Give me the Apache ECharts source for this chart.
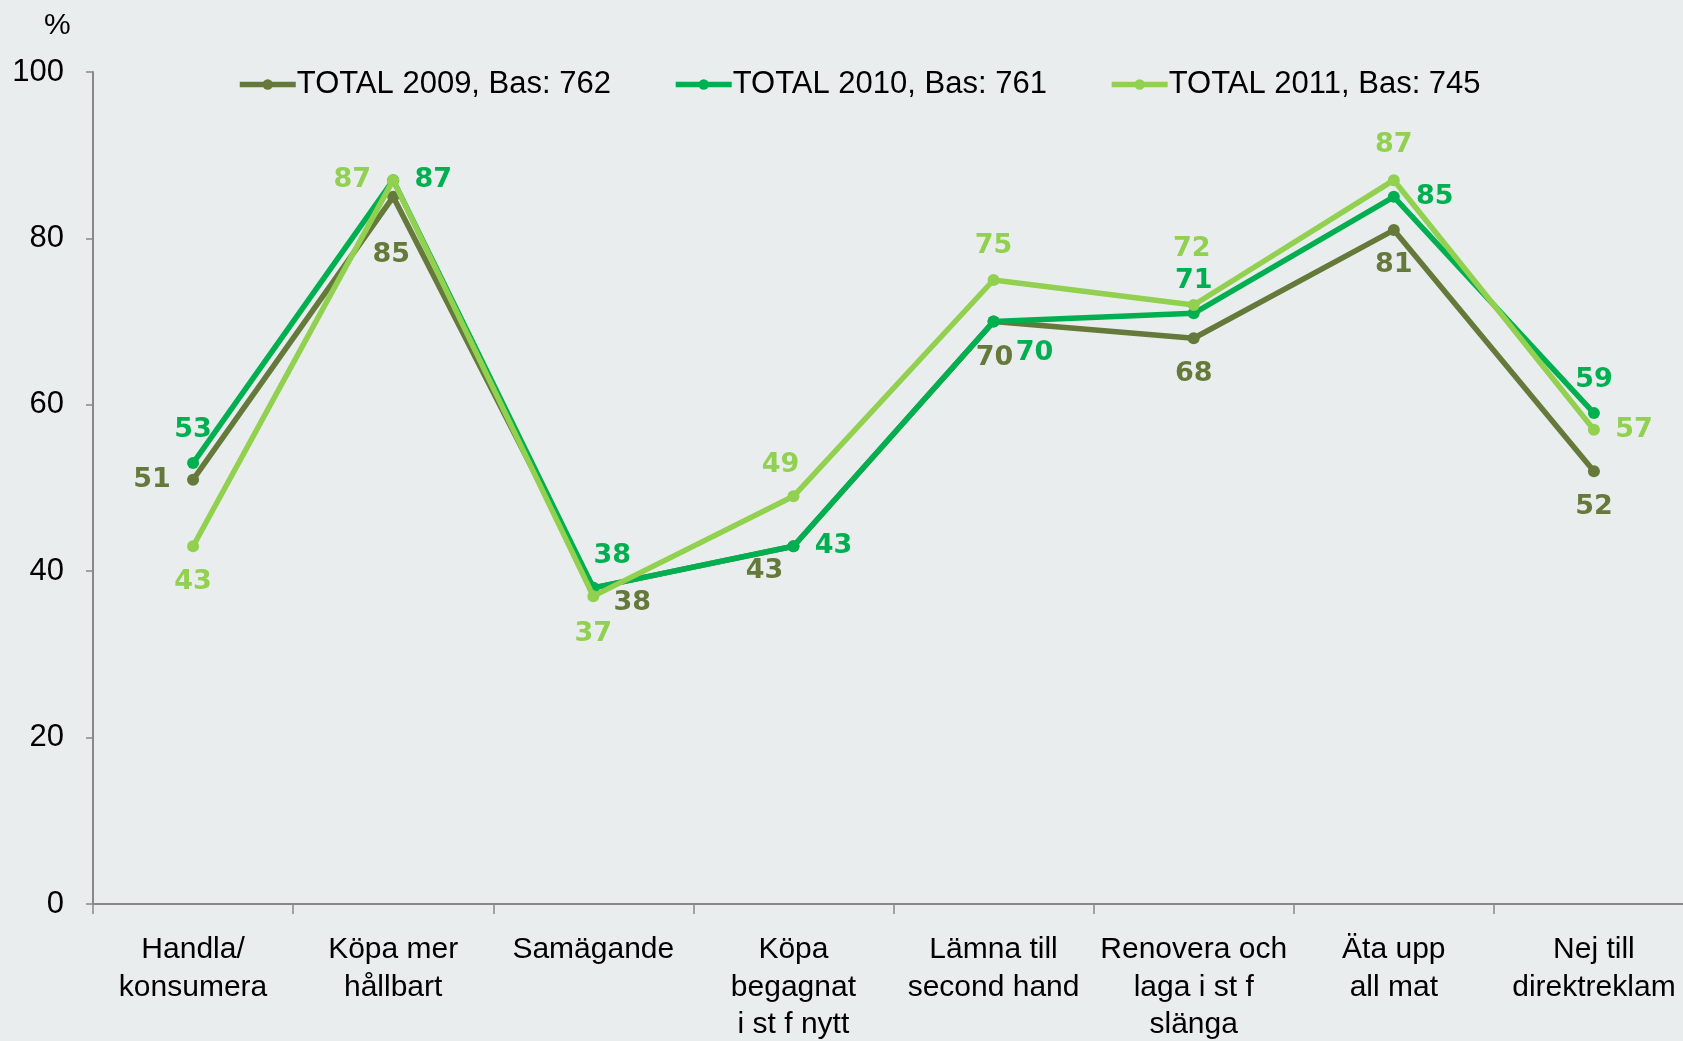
<!DOCTYPE html>
<html><head><meta charset="utf-8">
<script src="https://cdn.jsdelivr.net/npm/echarts@6/dist/echarts.min.js"></script>
<style>html,body{margin:0;padding:0;background:#E9EDEE;}#c{width:1683px;height:1041px;}</style>
</head><body><div id="c"></div>
<script>
const categories = ["Handla/\nkonsumera","Köpa mer\nhållbart","Samägande","Köpa\nbegagnat\ni st f nytt","Lämna till\nsecond hand","Renovera och\nlaga i st f\nslänga","Äta upp\nall mat","Nej till\ndirektreklam"];
const seriesNames = ["TOTAL 2009, Bas: 762","TOTAL 2010, Bas: 761","TOTAL 2011, Bas: 745"];
const values2009 = [51,85,38,43,70,68,81,52];
const values2010 = [53,87,38,43,70,71,85,59];
const values2011 = [43,87,37,49,75,72,87,57];
const yTicks = [0,20,40,60,80,100];

const colors = ["#64793A","#00B050","#92D050"];
// label offsets (px) of each label centre from its point
const labelOffsets = [
  [[-41,0],[-2,58],[39,15],[-29,25],[1,36],[0,36],[0,35],[0,36]],
  [[0,-33],[40,0],[19,-32],[40,0],[41,31],[0,-32],[41,0],[0,-33]],
  [[0,36],[-41,0],[0,38],[-13,-31],[0,-34],[-2,-56],[0,-35],[40,0]]
];
const allValues = [values2009, values2010, values2011];

const chart = echarts.init(document.getElementById('c'));
const series = allValues.map((vals, si) => ({
  name: seriesNames[si],
  type: 'line',
  data: vals.map((v, i) => ({
    value: v,
    label: {offset: labelOffsets[si][i]}
  })),
  z: si === 0 ? 2 : (si === 1 ? 3 : 4),
  symbol: 'circle',
  symbolSize: 12,
  lineStyle: {color: colors[si], width: 5.5},
  itemStyle: {color: colors[si]},
  label: {
    show: true, position: 'inside',
    color: colors[si], fontFamily: 'DejaVu Sans', fontWeight: 'bold', fontSize: 27
  },
  emphasis: {disabled: true},
  animation: false
}));

chart.setOption({
  backgroundColor: '#E9EDEE',
  animation: false,
  grid: {left: 93, width: 1601, top: 72, bottom: 137, containLabel: false, outerBoundsMode: 'none'},
  legend: {
    top: 64, left: 232, itemWidth: 56, itemHeight: 13, itemGap: 62,
    lineStyle: {width: 5.5},
    textStyle: {fontFamily: 'Liberation Sans', fontSize: 31, color: '#000', padding: [0,0,0,-4]},
    data: seriesNames
  },
  graphic: [{type: 'text', left: 44, top: 11, style: {text: '%', font: '30px "Liberation Sans"', fill: '#000'}}],
  xAxis: {
    type: 'category', data: categories, boundaryGap: true,
    axisLine: {lineStyle: {color: '#888', width: 2}},
    axisTick: {show: true, alignWithLabel: false, length: 10, lineStyle: {color: '#888', width: 1.5}},
    axisLabel: {interval: 0, fontFamily: 'Liberation Sans', fontSize: 30, color: '#000', lineHeight: 37.5, margin: 27}
  },
  yAxis: {
    type: 'value', min: 0, max: 100, interval: 20,
    axisLine: {show: true, lineStyle: {color: '#888', width: 2}},
    axisTick: {show: true, length: 7, lineStyle: {color: '#888', width: 1.5}},
    splitLine: {show: false},
    axisLabel: {fontFamily: 'Liberation Sans', fontSize: 31, color: '#000', margin: 29,
      formatter: v => yTicks.includes(v) ? String(v) : ''}
  },
  series: series
});
</script></body></html>
